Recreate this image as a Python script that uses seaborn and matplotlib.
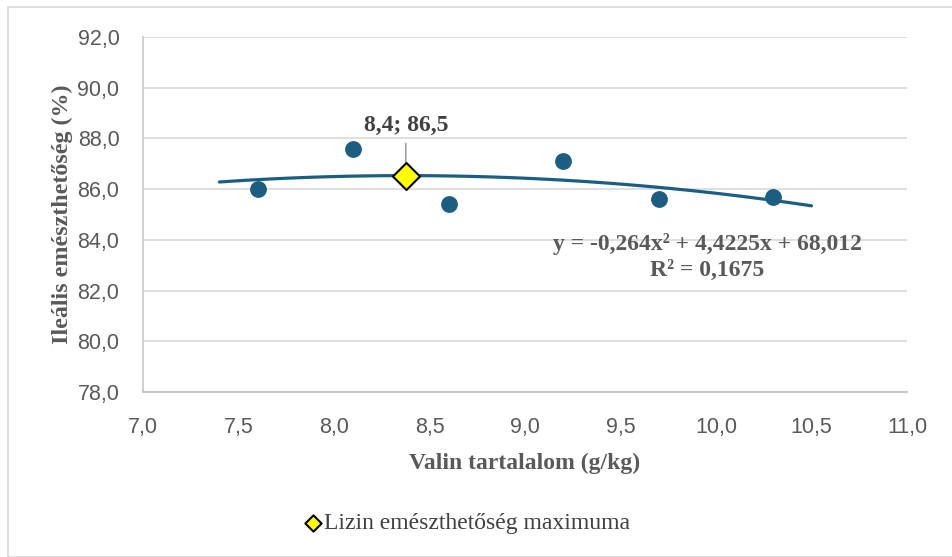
import numpy as np
import pandas as pd
import matplotlib.pyplot as plt
import seaborn as sns
from matplotlib.patches import Rectangle

# Data
valin = [7.6, 8.1, 8.6, 9.2, 9.7, 10.3]
emeszt = [86.0, 87.6, 85.4, 87.1, 85.6, 85.7]
max_x = [8.376]
max_y = [86.53]
trend_coef = [-0.264, 4.4225, 68.012]
trend_range = [7.4, 10.5]
x_ticks = [7.0, 7.5, 8.0, 8.5, 9.0, 9.5, 10.0, 10.5, 11.0]
y_ticks = [78.0, 80.0, 82.0, 84.0, 86.0, 88.0, 90.0, 92.0]

df = pd.DataFrame({"x": valin, "y": emeszt})
tx = np.linspace(trend_range[0], trend_range[1], 100)
trend = pd.DataFrame({"x": tx, "y": np.polyval(trend_coef, tx)})
df_max = pd.DataFrame({"x": max_x, "y": max_y})

sns.set_theme(style="white")
plt.rcParams['font.family'] = ['Liberation Sans', 'DejaVu Sans']

fig = plt.figure(figsize=(9.52, 5.57), dpi=100)
ax = fig.add_axes([0.1502, 0.2962, 0.8025, 0.6374])

# outer chart border
fig.patches.append(Rectangle((8 / 952, 0), 1.2, 1 - 7 / 557, transform=fig.transFigure,
                             fill=False, edgecolor="#d9d9d9", lw=1.2))

blue = "#1B5E82"
sns.lineplot(data=trend, x="x", y="y", ax=ax, color=blue, lw=2.3, zorder=3)
sns.scatterplot(data=df, x="x", y="y", ax=ax, color=blue, s=125, edgecolor=blue, zorder=4)
sns.scatterplot(data=df_max, x="x", y="y", ax=ax, marker="D", color="#FFFF00", s=190,
                edgecolor="black", linewidth=1.5, zorder=5, label="Lizin emészthetőség maximuma")

ax.set_xlim(7.0, 11.0)
ax.set_ylim(78.0, 92.0)
ax.set_xticks(x_ticks)
ax.set_yticks(y_ticks)
ax.set_xticklabels([f"{v:.1f}".replace(".", ",") for v in x_ticks])
ax.set_yticklabels([f"{v:.1f}".replace(".", ",") for v in y_ticks])
ax.tick_params(axis="both", length=0, labelsize=15.5, labelcolor="#595959")
ax.tick_params(axis="x", pad=18)
ax.tick_params(axis="y", pad=17)
ax.grid(axis="y", color="#d9d9d9", lw=1.2)
ax.grid(axis="x", visible=False)
for side in ["top", "right"]:
    ax.spines[side].set_visible(False)
ax.spines["left"].set_color("#c8c8c8")
ax.spines["bottom"].set_color("#c0c0c0")
ax.spines["left"].set_linewidth(1.2)
ax.spines["bottom"].set_linewidth(1.2)

serif = ['Liberation Serif', 'DejaVu Serif']
ax.set_xlabel("Valin tartalalom (g/kg)", family=serif, fontsize=17, fontweight="bold",
              color="#595959", labelpad=11)
ax.set_ylabel("Ileális emészthetőség (%)", family=serif, fontsize=17.3, fontweight="bold",
              color="#595959", labelpad=3.5)

# data label of the maximum
ax.annotate("8,4; 86,5", xy=(max_x[0], max_y[0]), xytext=(max_x[0], 88.1),
            ha="center", va="bottom", family=serif, fontsize=17, fontweight="bold",
            color="#404040",
            arrowprops=dict(arrowstyle="-", color="#a0a0a0", lw=1.2, shrinkA=3, shrinkB=0))

ax.text(0.739, 0.38, "y = -0,264x² + 4,4225x + 68,012\nR² = 0,1675", transform=ax.transAxes,
        ha="center", va="center", family=serif, fontsize=17, fontweight="bold",
        color="#595959", linespacing=1.35)

ax.get_legend().remove()
h, l = ax.get_legend_handles_labels()
fig.legend(h, l, loc="center", bbox_to_anchor=(0.49, 0.061), frameon=False,
           prop={"family": serif, "size": 17}, labelcolor="#404040",
           handletextpad=0.05, markerscale=0.6, handlelength=0.8)

plt.savefig("out.png", dpi=100)
